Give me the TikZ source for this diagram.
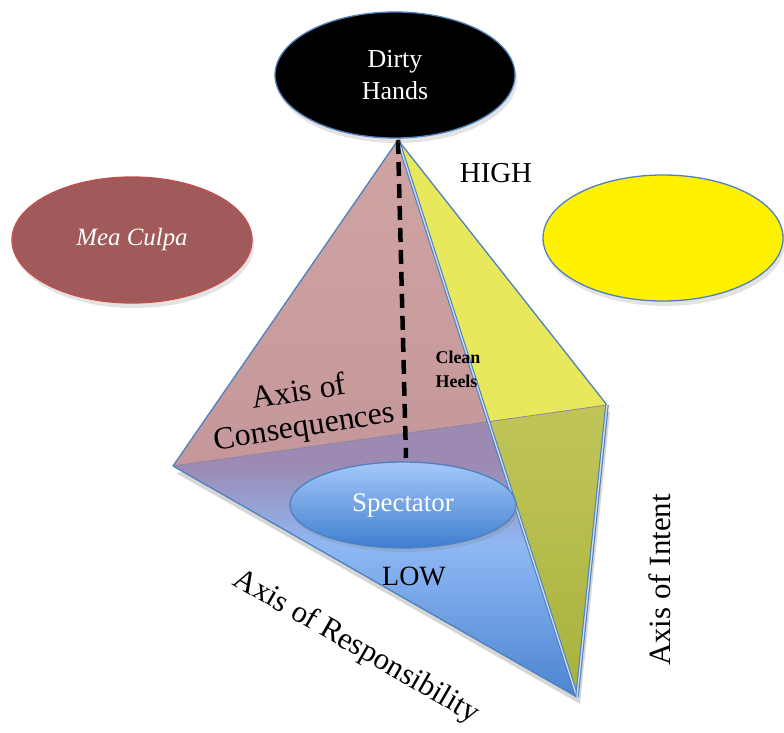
\documentclass[tikz,border=0pt]{standalone}
\usepackage{fontspec}
\setmainfont{Liberation Serif}
\usetikzlibrary{shapes.geometric,shadows}

\definecolor{edgeblue}{HTML}{4F81BD}
\definecolor{edgelight}{HTML}{C9DAF0}
\definecolor{pinktop}{HTML}{D0A3A3}
\definecolor{pinkbot}{HTML}{C4979A}
\definecolor{purpleface}{HTML}{9C8AB2}
\definecolor{bluemid}{HTML}{8FB8F4}
\definecolor{bluedeep}{HTML}{4A84D0}
\definecolor{yellowface}{HTML}{E8E85C}
\definecolor{olivetop}{HTML}{C0C558}
\definecolor{olivebot}{HTML}{A8B33D}
\definecolor{foldline}{HTML}{8A84A8}
\definecolor{culpa}{HTML}{A05A5A}
\definecolor{culpaedge}{HTML}{C0504D}
\definecolor{spectop}{HTML}{A6C8FA}
\definecolor{specbot}{HTML}{3E7ECF}

\begin{document}
\begin{tikzpicture}[x=1bp,y=-1bp,
  oval/.style={ellipse, draw=edgeblue, line width=1.3bp,
    minimum width=240bp, minimum height=126bp, inner sep=0pt,
    align=center, text=white,
    drop shadow={shadow xshift=2bp, shadow yshift=-5bp, opacity=0.22}},
  face edge/.style={draw=edgeblue, line width=1.3bp, line join=round},
  twin edge/.style={draw=edgeblue, double=edgelight, double distance=1.4bp,
    line width=1.1bp},
  axistext/.style={font=\fontsize{31}{35}\selectfont, inner sep=0pt}]

\useasboundingbox (0,0) rectangle (784,733);

% pyramid corners
\coordinate (T) at (398,140);
\coordinate (L) at (173,466);
\coordinate (B) at (577,697);
\coordinate (R) at (607,405);
\coordinate (P) at (intersection of L--R and T--B);
\coordinate (D) at (406,458);

% soft shadow under the base
\fill[black, opacity=0.16]
  ([shift={(3,7)}]L) -- ([shift={(3,7)}]B) -- ([shift={(3,7)}]R) -- cycle;

% lower front: purple near the fold, clear blue further down
\begin{scope}
  \clip (L) -- (P) -- (B) -- cycle;
  \shade[top color=bluemid, bottom color=bluedeep] (150,545) rectangle (620,700);
  \shade[top color=purpleface, bottom color=bluemid] (150,465) rectangle (620,546);
  \fill[purpleface] (150,410) rectangle (620,466);
\end{scope}

% upper faces
\shade[top color=pinktop, bottom color=pinkbot] (T) -- (L) -- (P) -- cycle;
\fill[yellowface] (T) -- (P) -- (R) -- cycle;
\shade[top color=olivetop, bottom color=olivebot] (P) -- (R) -- (B) -- cycle;

% fold seen through the faces
\draw[foldline, line width=0.8bp] (L) -- (R);

% edges
\draw[face edge] (L) -- (T) -- (R);
\draw[face edge] (L) -- (B);
\draw[twin edge] (T) -- (B);
\draw[twin edge] (R) -- (B);

% centre line
\draw[black, line width=4.5bp, dash pattern=on 14bp off 8bp] (T) -- (D);

% ovals
\node[oval, fill=black, font=\fontsize{26}{32}\selectfont] (dirty) at (395,75) {Dirty\\Hands};
\node[oval, fill=culpa, draw=culpaedge, font=\fontsize{25}{30}\selectfont\itshape]
  (culpa) at (132,240) {Mea Culpa};
\node[oval, fill=yellow] (sun) at (663,238) {};
\node[ellipse, draw=edgeblue, line width=1.3bp, top color=spectop, bottom color=specbot,
  minimum width=226bp, minimum height=86bp, inner sep=0pt, text=white,
  font=\fontsize{27}{30}\selectfont,
  drop shadow={shadow xshift=2bp, shadow yshift=-4bp, opacity=0.22}]
  (spectator) at (403,505) {Spectator};

% labels
\node[axistext, font=\fontsize{29}{34}\selectfont] (high) at (496,173) {HIGH};
\node[axistext, font=\fontsize{28}{34}\selectfont] (low) at (414,576) {LOW};
\node[axistext, font=\fontsize{32}{35}\selectfont, rotate=9, align=center]
  (conseq) at (302,411) {Axis of\\Consequences};
\node[inner sep=0pt, align=left, font=\fontsize{18}{24}\selectfont\bfseries]
  (clean) at (458,369) {Clean\\Heels};
\node[axistext, rotate=-30] (resp) at (356,647) {Axis of Responsibility};
\node[axistext, rotate=90] (intent) at (660,580) {Axis of Intent};
\end{tikzpicture}
\end{document}
